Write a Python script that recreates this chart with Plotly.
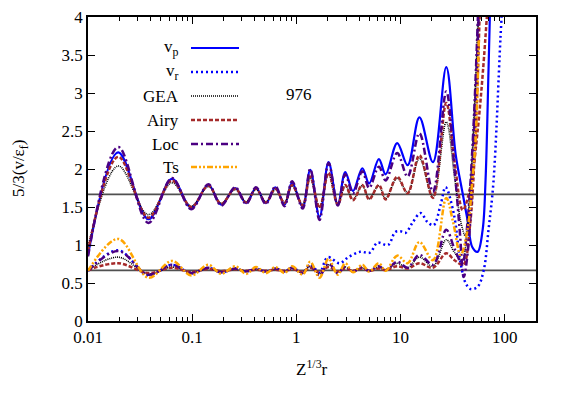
import plotly.graph_objects as go

# ---------------- data ----------------
x_osc = [0.01, 0.0195, 0.038, 0.064, 0.098, 0.143, 0.19, 0.259, 0.33, 0.41, 0.51, 0.63,
         0.77, 0.91, 1.15, 1.36, 1.67, 2.04, 2.5, 2.95, 3.5, 4.3, 5.0, 6.2, 7.2, 9.3,
         11.7, 15.2, 20.5, 27.5]

# upper group (p component)
vp_y = [0.87, 2.22, 1.34, 1.87, 1.49, 1.79, 1.53, 1.75, 1.55, 1.75, 1.55, 1.76, 1.53, 1.82,
        1.50, 1.99, 1.37, 2.09, 1.53, 1.96, 1.71, 2.01, 1.81, 2.13, 1.93, 2.34, 2.05, 2.68,
        2.09, 3.34]
vp_tail_x = [33.8, 39.5, 44.0, 49.0, 55.0, 61.5, 65.6, 70.0, 73.0]
vp_tail_y = [2.20, 1.68, 1.33, 0.97, 0.91, 1.20, 1.86, 3.30, 4.30]

gea_p_y = [0.97, 2.04, 1.40, 1.82, 1.51, 1.77, 1.55, 1.73, 1.57, 1.73, 1.57, 1.73, 1.56, 1.78,
           1.53, 1.88, 1.50, 1.93, 1.54, 1.78, 1.60, 1.78, 1.61, 1.78, 1.61, 1.88, 1.69, 2.14,
           1.63, 2.62]
gea_p_tail_x = [33.0, 38.0, 42.0, 47.0, 52.0, 57.0]
gea_p_tail_y = [1.90, 1.30, 1.12, 1.80, 3.00, 4.20]

airy_p_y = [0.92, 2.16, 1.36, 1.85, 1.50, 1.78, 1.54, 1.74, 1.56, 1.74, 1.56, 1.74, 1.55, 1.79,
            1.52, 1.90, 1.49, 1.95, 1.53, 1.79, 1.59, 1.79, 1.60, 1.79, 1.60, 1.90, 1.68, 2.18,
            1.62, 2.87]
airy_p_tail_x = [33.0, 39.6, 47.0, 55.0, 62.0, 69.0]
airy_p_tail_y = [2.10, 1.46, 1.77, 2.50, 3.30, 4.20]

loc_p_y = [0.85, 2.29, 1.29, 1.88, 1.47, 1.80, 1.52, 1.76, 1.54, 1.76, 1.54, 1.77, 1.51, 1.84,
           1.48, 2.00, 1.33, 2.08, 1.52, 1.93, 1.68, 1.97, 1.75, 2.03, 1.85, 2.21, 1.90, 2.47,
           1.70, 3.02]
loc_p_tail_x = [33.0, 37.0, 40.5, 44.7, 50.0, 57.0]
loc_p_tail_y = [2.00, 1.20, 0.58, 0.97, 2.20, 4.20]

# lower group (r component)
vr_x = [0.01, 0.0195, 0.038, 0.064, 0.098, 0.143, 0.19, 0.259, 0.33, 0.41, 0.51, 0.63,
        0.77, 0.91, 1.15, 1.36, 1.67, 2.0, 2.6, 3.16, 4.1, 5.1, 6.0, 7.6, 8.9, 10.0, 11.2,
        13.0, 15.6, 18.2, 20.8, 24.3, 27.1, 32.4, 37.8, 42.2, 47.1, 55.0, 63.0, 70.0, 78.0,
        91.0, 96.0]
vr_y = [0.66, 0.93, 0.60, 0.74, 0.63, 0.70, 0.64, 0.69, 0.65, 0.69, 0.65, 0.69, 0.65, 0.70,
        0.64, 0.74, 0.64, 0.84, 0.76, 0.84, 0.91, 0.90, 1.03, 1.00, 1.17, 1.18, 1.16, 1.29,
        1.42, 1.30, 1.26, 1.53, 1.76, 1.42, 0.76, 0.50, 0.42, 0.45, 0.67, 1.20, 1.82, 3.70,
        4.30]

gea_r_y = [0.67, 0.84, 0.62, 0.71, 0.64, 0.69, 0.65, 0.68, 0.655, 0.68, 0.655, 0.68, 0.655,
           0.69, 0.64, 0.72, 0.62, 0.74, 0.64, 0.71, 0.66, 0.70, 0.66, 0.71, 0.67, 0.76, 0.70,
           0.84, 0.72, 1.07]
gea_r_tail_x = [33.0, 39.0, 44.0, 50.0, 56.0]
gea_r_tail_y = [0.90, 0.80, 1.30, 2.40, 4.20]

airy_r_y = [0.67, 0.76, 0.63, 0.70, 0.645, 0.685, 0.655, 0.68, 0.66, 0.675, 0.66, 0.675, 0.66,
            0.68, 0.65, 0.70, 0.64, 0.71, 0.65, 0.69, 0.66, 0.69, 0.66, 0.69, 0.67, 0.72, 0.69,
            0.76, 0.70, 0.89]
airy_r_tail_x = [33.0, 40.0, 46.0, 52.0, 58.0]
airy_r_tail_y = [0.80, 0.74, 1.20, 2.30, 4.20]

loc_r_y = [0.66, 0.92, 0.61, 0.74, 0.63, 0.70, 0.64, 0.69, 0.65, 0.69, 0.65, 0.69, 0.65, 0.70,
           0.63, 0.74, 0.60, 0.76, 0.63, 0.72, 0.65, 0.71, 0.66, 0.72, 0.67, 0.78, 0.70, 0.87,
           0.74, 1.20]
loc_r_tail_x = [33.0, 39.0, 44.0, 50.0, 56.0]
loc_r_tail_y = [0.95, 0.76, 1.30, 2.50, 4.20]

ts_y = [0.66, 1.08, 0.57, 0.79, 0.60, 0.74, 0.62, 0.72, 0.62, 0.71, 0.63, 0.71, 0.63, 0.72,
        0.61, 0.78, 0.57, 0.82, 0.61, 0.76, 0.64, 0.74, 0.65, 0.76, 0.66, 0.86, 0.76, 1.04,
        0.80, 1.62]
ts_tail_x = [32.0, 37.8, 44.0, 49.0, 52.6, 56.5]
ts_tail_y = [1.30, 0.87, 1.20, 1.86, 2.38, 3.70]

ref_levels = [5 / 3, 2 / 3]
x_span = [0.01, 200]

y_ticks = [0, 0.5, 1, 1.5, 2, 2.5, 3, 3.5, 4]
y_ticktext = ["0", "0.5", "1", "1.5", "2", "2.5", "3", "3.5", "4"]
x_ticks = [0.01, 0.1, 1, 10, 100]
x_ticktext = ["0.01", "0.1", "1", "10", "100"]
x_minor = [m * 10 ** e for e in range(-2, 3) for m in range(2, 10) if m * 10 ** e <= 200]

legend_names = ["v<sub>p</sub>", "v<sub>r</sub>", "GEA", "Airy", "Loc", "Ts"]
label_976 = "976"
x_title = "Z<sup>1/3</sup>r"
y_title = "5/3(v/ε<sub>f</sub>)"

# ---------------- styles ----------------
BLUE = "#0000ff"
BLACK = "#000000"
BROWN = "#a52a2a"
INDIGO = "#4b0082"
ORANGE = "#ffa500"

st_vp = dict(color=BLUE, width=2.2, dash="solid")
st_vr = dict(color=BLUE, width=2.5, dash="2px,3px")
st_gea = dict(color=BLACK, width=1.6, dash="1px,1px")
st_airy = dict(color=BROWN, width=2.5, dash="4px,2px")
st_loc = dict(color=INDIGO, width=2.5, dash="7px,3px,2px,3px")
st_ts = dict(color=ORANGE, width=2.5, dash="6px,2px,2px,2px,2px,2px")

FONT = "Times New Roman, Liberation Serif, Times, serif"
FS = 17

fig = go.Figure()

def add(xs, ys, style):
    fig.add_trace(go.Scatter(x=xs, y=ys, mode="lines", line=dict(shape="spline", smoothing=1.0, **style),
                             showlegend=False, hoverinfo="skip"))

for lvl in ref_levels:
    fig.add_trace(go.Scatter(x=x_span, y=[lvl, lvl], mode="lines",
                             line=dict(color="#505050", width=1.6), showlegend=False, hoverinfo="skip"))

add(x_osc + vp_tail_x, vp_y + vp_tail_y, st_vp)
add(vr_x, vr_y, st_vr)
add(x_osc + gea_p_tail_x, gea_p_y + gea_p_tail_y, st_gea)
add(x_osc + gea_r_tail_x, gea_r_y + gea_r_tail_y, st_gea)
add(x_osc + airy_p_tail_x, airy_p_y + airy_p_tail_y, st_airy)
add(x_osc + airy_r_tail_x, airy_r_y + airy_r_tail_y, st_airy)
add(x_osc + loc_p_tail_x, loc_p_y + loc_p_tail_y, st_loc)
add(x_osc + loc_r_tail_x, loc_r_y + loc_r_tail_y, st_loc)
add(x_osc + ts_tail_x, ts_y + ts_tail_y, st_ts)

# ---------------- manual gnuplot-style key ----------------
# the page body adds an 8px offset, so margins are reduced by 8 on left/top
W, H = 568, 397
OFF = 8
L, R, T, B = 88 - OFF, 32 + OFF, 17 - OFF, 76 + OFF
pw, ph = W - L - R, H - T - B

def px2paper(px, py):
    return (px - OFF - L) / pw, 1 - (py - OFF - T) / ph

key_styles = [st_vp, st_vr, st_gea, st_airy, st_loc, st_ts]
key_rows = [48, 72, 96, 120, 144, 167]
for name, sty, row in zip(legend_names, key_styles, key_rows):
    tx, ty = px2paper(181, row)
    fig.add_annotation(x=tx, y=ty, xref="paper", yref="paper", text=name, showarrow=False,
                       xanchor="right", yanchor="middle", font=dict(family=FONT, size=FS, color="black"))
    x0, y0 = px2paper(191, row)
    x1, _ = px2paper(239, row)
    fig.add_shape(type="line", xref="paper", yref="paper", x0=x0, x1=x1, y0=y0, y1=y0,
                  line=dict(color=sty["color"], width=sty["width"], dash=sty["dash"]))

ax, ay = px2paper(299, 95)
fig.add_annotation(x=ax, y=ay, xref="paper", yref="paper", text=label_976, showarrow=False,
                   xanchor="center", yanchor="middle", font=dict(family=FONT, size=FS, color="black"))

# axis titles placed like gnuplot
tx, ty = px2paper(312, 368)
fig.add_annotation(x=tx, y=ty, xref="paper", yref="paper", text=x_title, showarrow=False,
                   xanchor="center", yanchor="middle", font=dict(family=FONT, size=FS, color="black"))
tx, ty = px2paper(20, 169)
fig.add_annotation(x=tx, y=ty, xref="paper", yref="paper", text=y_title, showarrow=False,
                   textangle=-90, xanchor="center", yanchor="middle",
                   font=dict(family=FONT, size=FS, color="black"))

fig.update_layout(
    width=W, height=H,
    margin=dict(l=L, r=R, t=T, b=B, autoexpand=False),
    paper_bgcolor="white", plot_bgcolor="white",
    font=dict(family=FONT, size=FS, color="black"),
    showlegend=False,
)
fig.update_xaxes(
    type="log", range=[-2, 2.30103],
    tickvals=x_ticks, ticktext=x_ticktext,
    ticks="inside", ticklen=7, tickwidth=1, tickcolor="black",
    minor=dict(tickvals=x_minor, ticks="inside", ticklen=4, tickcolor="black", tickwidth=1),
    showline=True, linecolor="black", linewidth=1.5, mirror="ticks",
    showgrid=False, zeroline=False, automargin=False,
    ticklabeloverflow="allow",
    tickfont=dict(family=FONT, size=FS),
)
fig.update_yaxes(
    range=[0, 4], tickvals=y_ticks, ticktext=y_ticktext,
    ticks="inside", ticklen=7, tickwidth=1, tickcolor="black",
    showline=True, linecolor="black", linewidth=1.5, mirror="ticks",
    showgrid=False, zeroline=False, automargin=False,
    ticklabeloverflow="allow",
    tickfont=dict(family=FONT, size=FS),
)

fig.write_html("out.html")
